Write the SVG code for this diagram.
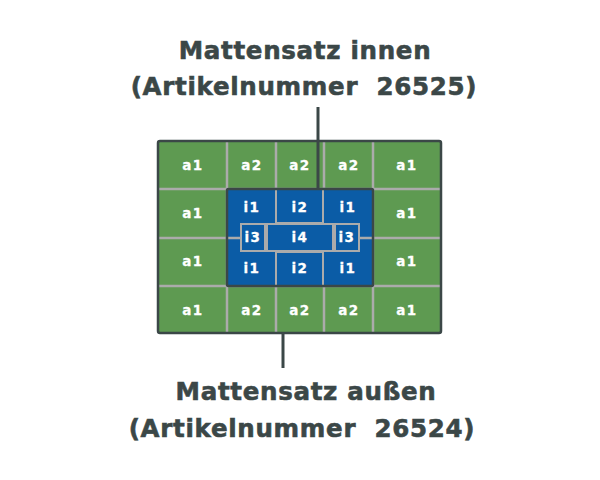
<svg xmlns="http://www.w3.org/2000/svg" width="600" height="480" viewBox="0 0 600 480">
<style>
.t{font-family:"DejaVu Sans",Verdana,sans-serif;font-weight:bold;font-size:24.5px;fill:#3b4747;stroke:#3b4747;stroke-width:0.6;text-anchor:middle;letter-spacing:0.7px}
.c{font-family:"DejaVu Sans",Verdana,sans-serif;font-weight:bold;font-size:13.5px;fill:#ffffff;stroke:#ffffff;stroke-width:0.3;text-anchor:middle;letter-spacing:1.5px}
.g{stroke:#ababab;stroke-width:2.5;fill:none}
.gb{stroke:#ababab;stroke-width:2;fill:#0b5ca6}
.conn{stroke:#3b4747;stroke-width:3}
</style>
<rect width="600" height="480" fill="#ffffff"/>
<g id="outer">
<rect x="158" y="141" width="283" height="192" rx="2" fill="#5e9a51"/>
<path class="g" d="M227 141V333M276 141V333M324 141V333M373 141V333M158 189H441M158 238H441M158 286H441"/>
<text class="c" x="193" y="170">a1</text><text class="c" x="252" y="170">a2</text><text class="c" x="300" y="170">a2</text><text class="c" x="349" y="170">a2</text><text class="c" x="407" y="170">a1</text>
<text class="c" x="193" y="218">a1</text><text class="c" x="407" y="218">a1</text>
<text class="c" x="193" y="266">a1</text><text class="c" x="407" y="266">a1</text>
<text class="c" x="193" y="315">a1</text><text class="c" x="252" y="315">a2</text><text class="c" x="300" y="315">a2</text><text class="c" x="349" y="315">a2</text><text class="c" x="407" y="315">a1</text>
<rect x="158" y="141" width="283" height="192" rx="2" fill="none" stroke="#3b4747" stroke-width="2.5"/>
</g>
<g id="inner">
<rect x="227" y="189" width="146" height="97" fill="#0b5ca6"/>
<path class="g" d="M227 238H241M359 238H373"/>
<rect class="gb" x="276" y="189" width="47" height="34"/>
<rect class="gb" x="276" y="252" width="47" height="34"/>
<rect class="gb" x="241" y="224" width="24" height="27"/>
<rect class="gb" x="267" y="224" width="66" height="27"/>
<rect class="gb" x="335" y="224" width="24" height="27"/>
<text class="c" x="252" y="212">i1</text><text class="c" x="300" y="212">i2</text><text class="c" x="348" y="212">i1</text>
<text class="c" x="253" y="242">i3</text><text class="c" x="300" y="242">i4</text><text class="c" x="347" y="242">i3</text>
<text class="c" x="252" y="273">i1</text><text class="c" x="300" y="273">i2</text><text class="c" x="348" y="273">i1</text>
<rect x="227" y="189" width="146" height="97" rx="1.5" fill="none" stroke="#3b4747" stroke-width="2.5"/>
</g>
<g id="connectors">
<line class="conn" x1="318" y1="107" x2="318" y2="188"/>
<line class="conn" x1="283" y1="334" x2="283" y2="368"/>
</g>
<g id="label-innen">
<text class="t" x="305" y="59">Mattensatz innen</text>
<text class="t" x="304" y="95" xml:space="preserve">(Artikelnummer  26525)</text>
</g>
<g id="label-aussen">
<text class="t" x="306" y="400">Mattensatz außen</text>
<text class="t" x="302" y="437" xml:space="preserve">(Artikelnummer  26524)</text>
</g>
</svg>
